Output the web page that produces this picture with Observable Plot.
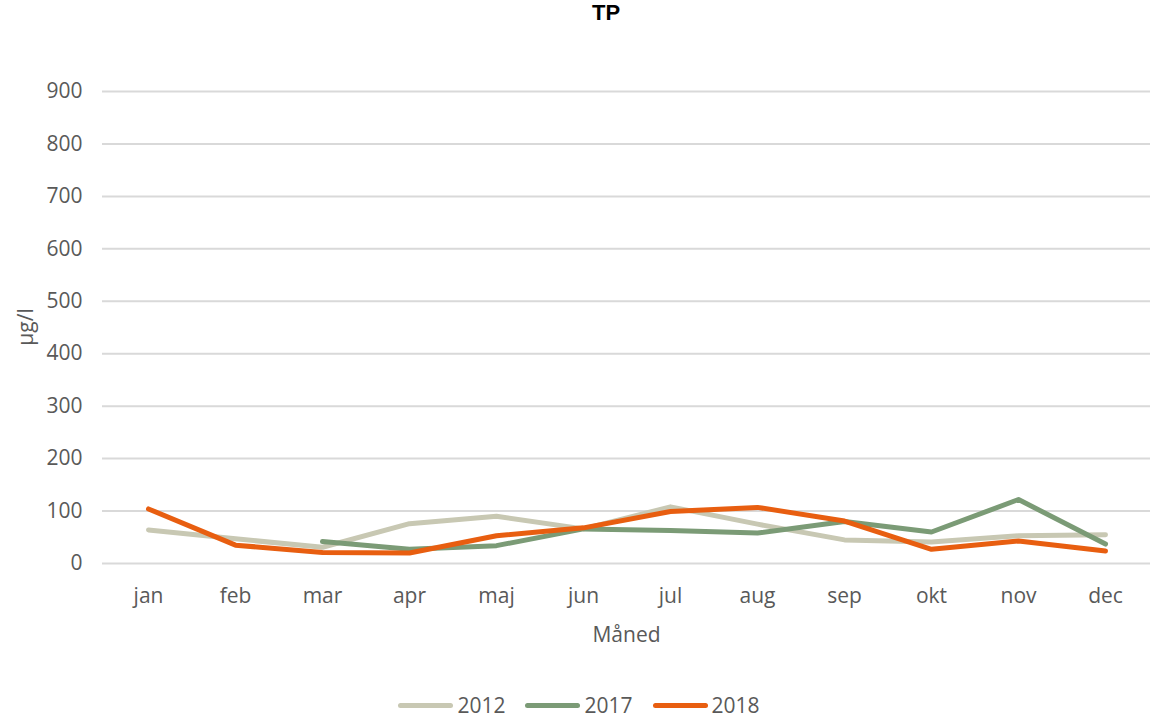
<!DOCTYPE html>
<html>
<head>
<meta charset="utf-8">
<script src="https://cdn.jsdelivr.net/npm/d3@7"></script>
<script src="https://cdn.jsdelivr.net/npm/@observablehq/plot@0.6"></script>
<style>
  html, body { margin: 0; padding: 0; background: #fff; }
  body { width: 1150px; height: 717px; position: relative; overflow: hidden; font-family: "Open Sans", sans-serif; }
  #title { position: absolute; left: 62px; right: 0; top: 0; height: 45px; line-height: 45px; text-align: center; font: bold 22px "Liberation Sans", Arial, sans-serif; color: #000; }
  #chart { position: absolute; left: 0; top: 45px; }
  #ylabel { position: absolute; left: 25px; top: 327px; transform: translate(-50%, -50%) rotate(-90deg); font-size: 21px; color: #595959; white-space: nowrap; }
  #legend { position: absolute; left: 0; right: 0; top: 690px; height: 30px; display: flex; justify-content: center; align-items: center; gap: 20px; font-size: 21px; color: #595959; margin-left: 8px; }
  .item { display: flex; align-items: center; gap: 4px; }
  .swatch { width: 55px; height: 5px; border-radius: 3px; }
</style>
</head>
<body>
<div id="title">TP</div>
<div id="chart"></div>
<div id="ylabel">µg/l</div>
<div id="legend"></div>
<script>
const months = ["jan","feb","mar","apr","maj","jun","jul","aug","sep","okt","nov","dec"];
const series = ["2012", "2017", "2018"];
const colors = ["#c8c8b3", "#7b9b76", "#e85e10"];
const v2012 = [64, 47, 31, 76, 90, 66, 108, 75, 45, 41, 53, 55];
const v2017 = [null, null, 42, 27, 34, 66, 63, 58, 80, 60, 122, 37];
const v2018 = [104, 35, 21, 20, 53, 68, 99, 107, 81, 27, 43, 24];
const yTicks = [0, 100, 200, 300, 400, 500, 600, 700, 800, 900];

const valuesBySeries = [v2012, v2017, v2018];
const data = [];
series.forEach((s, i) => {
  valuesBySeries[i].forEach((v, j) => {
    data.push({series: s, month: months[j], value: v});
  });
});

const plot = Plot.plot({
  width: 1150,
  height: 640,
  marginLeft: 102,
  marginRight: 0,
  marginTop: 46,
  marginBottom: 122,
  style: {fontFamily: "'Open Sans', sans-serif", fontSize: "21px", color: "#595959", background: "#fff"},
  x: {type: "point", domain: months, padding: 0.5, label: "Måned", labelAnchor: "center", labelOffset: 78, tickSize: 0, tickPadding: 25},
  y: {domain: [0, 900], ticks: yTicks, label: null, tickSize: 0, tickPadding: 20},
  color: {domain: series, range: colors},
  marks: [
    Plot.ruleY(yTicks, {stroke: "#d9d9d9", strokeWidth: 2}),
    Plot.line(data, {x: "month", y: "value", z: "series", stroke: "series", strokeWidth: 5, strokeLinejoin: "round", strokeLinecap: "round", defined: d => d.value != null})
  ]
});
document.getElementById("chart").appendChild(plot);

const legend = document.getElementById("legend");
series.forEach((s, i) => {
  const item = document.createElement("div");
  item.className = "item";
  const sw = document.createElement("div");
  sw.className = "swatch";
  sw.style.background = colors[i];
  const t = document.createElement("span");
  t.textContent = s;
  item.appendChild(sw);
  item.appendChild(t);
  legend.appendChild(item);
});
</script>
</body>
</html>
